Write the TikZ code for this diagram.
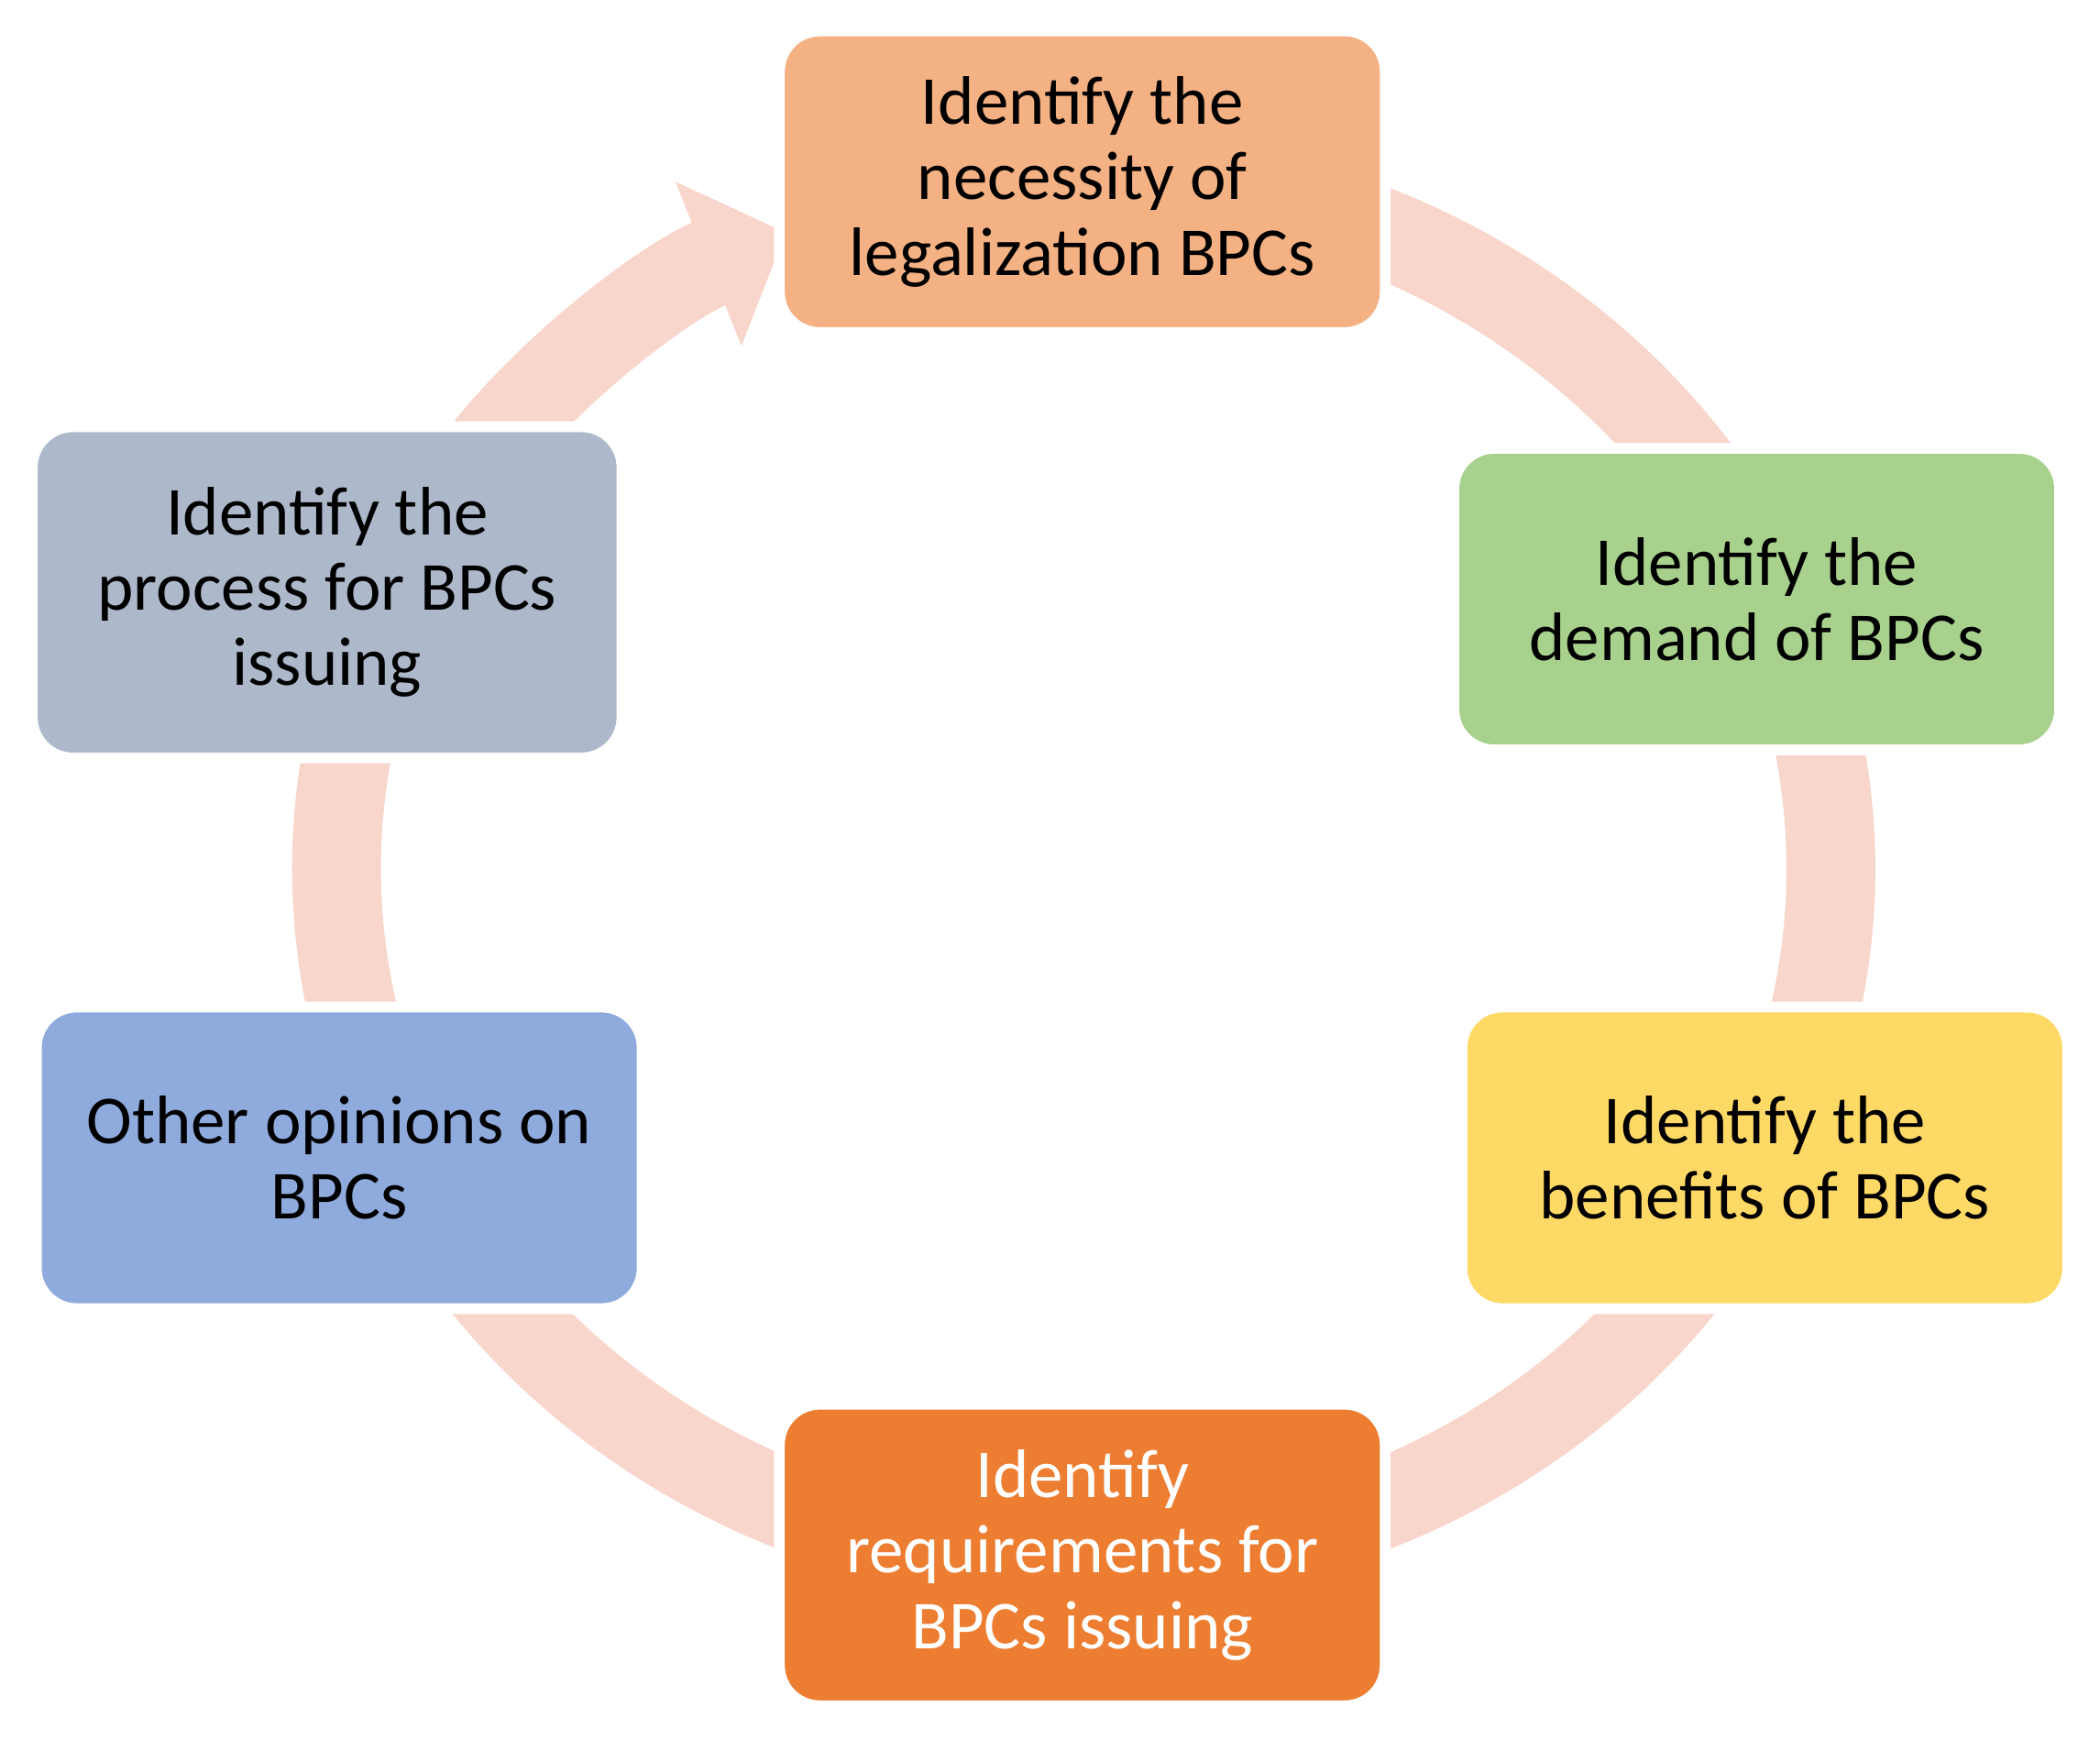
\documentclass[tikz,border=0pt]{standalone}
\usepackage{fontspec}
\setmainfont{Carlito}
\usetikzlibrary{arrows.meta}
\definecolor{ring}{HTML}{F8D6CB}
\definecolor{cTop}{HTML}{F4B183}
\definecolor{cGreen}{HTML}{A9D18E}
\definecolor{cYellow}{HTML}{FFD966}
\definecolor{cOrange}{HTML}{ED7D31}
\definecolor{cBlue}{HTML}{8FAADC}
\definecolor{cGray}{HTML}{ADB9CA}
\begin{document}
\begin{tikzpicture}[x=1pt,y=1pt,
  box/.style={rounded corners=30pt, draw=white, line width=8pt, minimum width=450pt, minimum height=224pt, align=center, font=\fontsize{51}{56}\selectfont, inner sep=0pt},
  ringline/.style={draw=ring, line width=66pt}]
\useasboundingbox (0,0) rectangle (1560,1292);
\coordinate (c) at (805,647);
\draw[ringline] (c) ++(100:555pt and 515pt) arc[start angle=100,end angle=-220,x radius=555pt,y radius=515pt];
\draw[ringline,-{Triangle[length=62pt,width=128pt]}] (c) ++(141:555pt and 515pt) arc[start angle=141,end angle=113.5,x radius=555pt,y radius=515pt];
\node[box,fill=cTop] (n1) at (804,1157) {Identify the\\necessity of\\legalization BPCs};
\node[box,fill=cGreen] (n2) at (1305,847) {Identify the\\demand of BPCs};
\node[box,fill=cYellow] (n3) at (1311,432) {Identify the\\benefits of BPCs};
\node[box,fill=cOrange,text=white] (n4) at (804,137) {Identify\\requirements for\\BPCs issuing};
\node[box,fill=cBlue] (n5) at (252,432) {Other opinions on\\BPCs};
\node[box,fill=cGray,minimum width=438pt,minimum height=246pt] (n6) at (243,852) {Identify the\\process for BPCs\\issuing};
\end{tikzpicture}
\end{document}
